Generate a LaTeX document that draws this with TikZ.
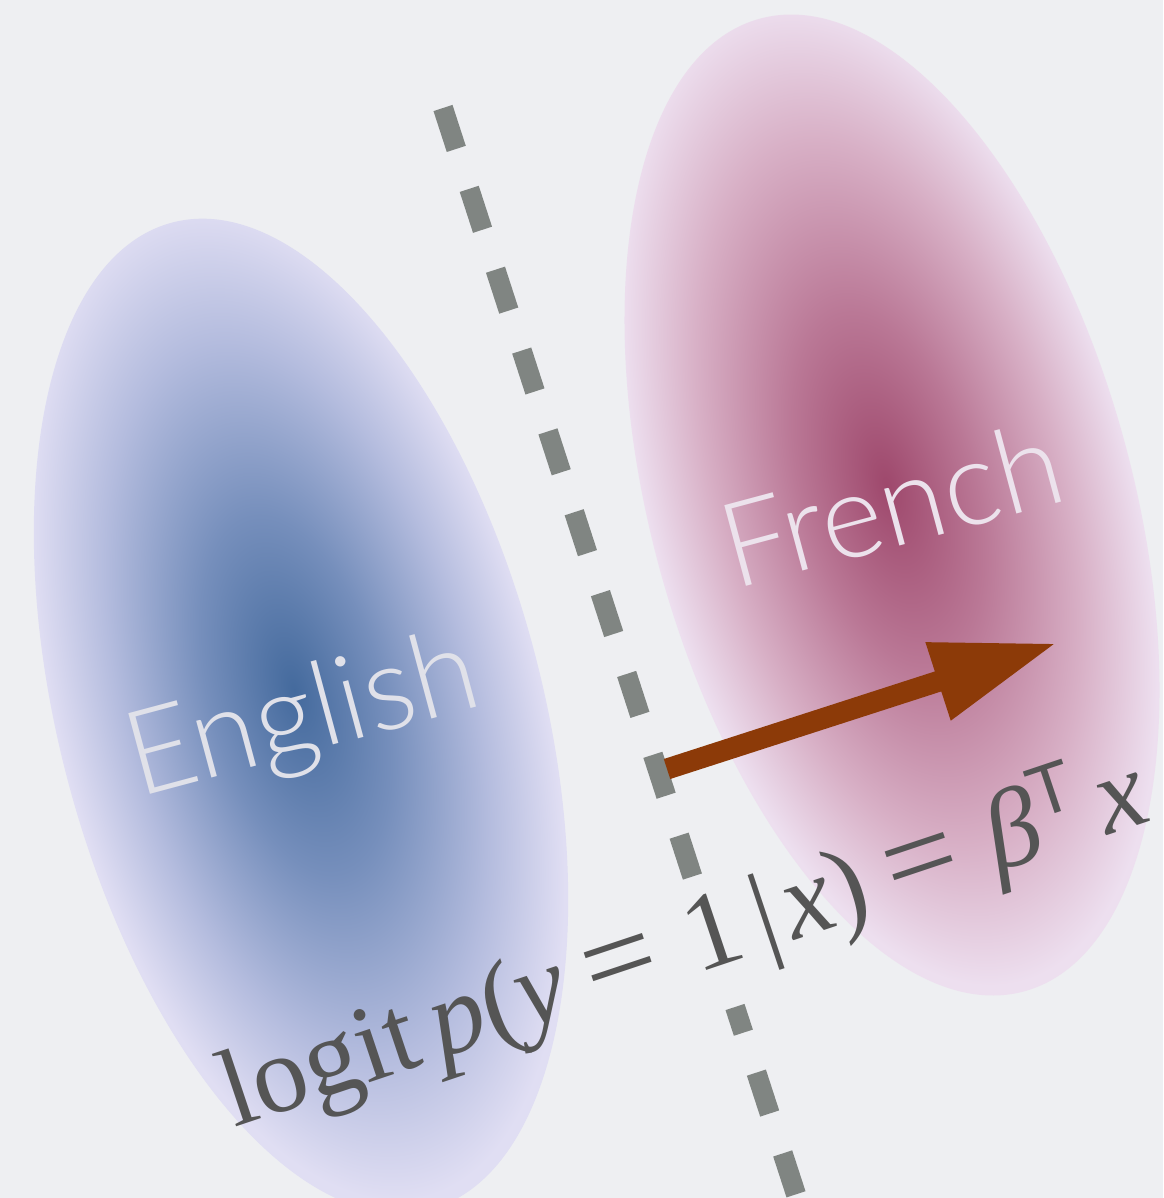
\documentclass[tikz,border=0pt]{standalone}
\usepackage{graphicx}
\usepackage{fontspec}
\newfontfamily\labelfont{Lato Light}
\newfontfamily\formulafont{Liberation Serif}[ItalicFont={Liberation Serif Italic}]
\newfontfamily\supfont{Liberation Sans}
\usetikzlibrary{arrows.meta}
\definecolor{paper}{RGB}{238,239,242}
\definecolor{engcore}{RGB}{68,106,157}
\definecolor{engmid}{RGB}{118,143,188}
\definecolor{englight}{RGB}{180,188,222}
\definecolor{engrim}{RGB}{224,222,243}
\definecolor{frcore}{RGB}{158,72,108}
\definecolor{frmid}{RGB}{186,120,150}
\definecolor{frlight}{RGB}{216,176,198}
\definecolor{frrim}{RGB}{237,223,239}
\definecolor{divgray}{RGB}{128,133,130}
\definecolor{betabrown}{RGB}{140,58,8}
\definecolor{inkgray}{RGB}{85,85,85}
\pgfdeclareradialshading{englishshade}{\pgfpoint{0bp}{1.3bp}}{color(0bp)=(engcore); color(9bp)=(engmid); color(18bp)=(englight); color(25bp)=(engrim); color(50bp)=(engrim)}
\pgfdeclareradialshading{frenchshade}{\pgfpoint{0bp}{1bp}}{color(0bp)=(frcore); color(9bp)=(frmid); color(18bp)=(frlight); color(25bp)=(frrim); color(50bp)=(frrim)}
\newcommand{\rel}[1]{\hspace{0.2em}\scalebox{1.2}[1.1]{#1}\hspace{0.3em}}

\begin{document}
\begin{tikzpicture}[x=1pt,y=-1pt,>=Stealth,
  lang/.style={font=\labelfont\fontsize{118}{118}\selectfont,inner sep=0pt,rotate=15,anchor=base},
  divider/.style={line width=20pt,divgray,dash pattern=on 43pt off 42pt},
  beta/.style={line width=21pt,betabrown,-{Triangle[length=125pt,width=76pt]}}]
  \useasboundingbox (0,0) rectangle (1163,1198);
  \fill[paper] (0,0) rectangle (1163,1198);
  % the two clouds
  \begin{scope}[transform canvas={shift={(301,716)},rotate=14.6}]
    \shade[shading=englishshade] (0,0) ellipse [x radius=242,y radius=510];
  \end{scope}
  \begin{scope}[transform canvas={shift={(892,505)},rotate=15.2}]
    \shade[shading=frenchshade] (0,0) ellipse [x radius=241,y radius=504];
  \end{scope}
  \node[lang,text={rgb,255:red,224;green,225;blue,233}] (english) at (312,751) {English};
  \node[lang,text={rgb,255:red,236;green,226;blue,236}] (french) at (902,545) {French};
  % boundary, broken where the formula crosses it
  \coordinate (top) at (443,108);
  \coordinate (gapstart) at (700,900);
  \coordinate (gapend) at (735,1007);
  \coordinate (bottom) at (806,1225);
  \draw[divider] (top) -- (gapstart);
  \draw[divider,dash phase=16pt] (gapend) -- (bottom);
  % normal
  \coordinate (root) at (667,769);
  \coordinate (tip) at (1057,643);
  \draw[beta] (root) -- (tip);
  \node[inkgray,inner sep=0pt,rotate=18.5,anchor=base west] (logit) at (234,1128)
    {\formulafont\fontsize{110}{110}\selectfont logit\hspace{0.15em}\textit{p}(\textit{y}\rel{=}1\hspace{0.15em}|\hspace{0.08em}\textit{x})\rel{=}\textit{β}\raisebox{0.34em}{\supfont\fontsize{72}{72}\selectfont T}\hspace{0.15em}\textit{x}};
\end{tikzpicture}
\end{document}
